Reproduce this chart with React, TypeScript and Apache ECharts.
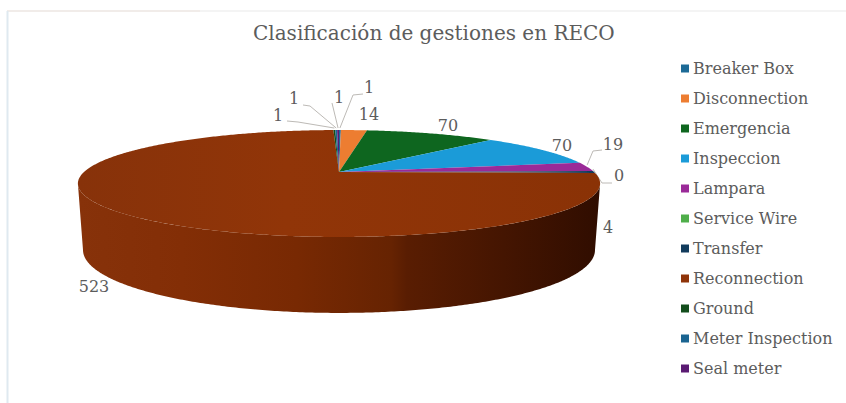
import React, { useEffect, useRef } from "react";
import * as echarts from "echarts";

const categories = ["Breaker Box", "Disconnection", "Emergencia", "Inspeccion", "Lampara", "Service Wire", "Transfer", "Reconnection", "Ground", "Meter Inspection", "Seal meter"];
const values = [1, 14, 70, 70, 19, 0, 4, 523, 1, 1, 1];
const colors = ["#1c6a96", "#ed7d31", "#0e661f", "#1b9bd8", "#9a2a98", "#4fae4a", "#123b5c", "#8f3409", "#134d1c", "#1a6491", "#5a1a72"];

// Label layout: [label x, label y, ...leader bend points]
const labelLayout: number[][] = [
  [369, 87, 363, 94, 353, 95],
  [369, 114],
  [448, 125],
  [562, 145],
  [613, 144, 602, 150, 593, 151],
  [619, 175, 612, 183, 602, 183],
  [608, 227],
  [94, 286],
  [278, 115, 287, 121, 298, 122],
  [294, 98, 303, 105, 310, 106],
  [339, 97, 332, 103],
];

const FONT = "DejaVu Serif";
const TEXT = "#5c5c5c";
const CX = 339;
const K = 0.215;
const total = values.reduce((a, b) => a + b, 0);
const starts: number[] = [];
values.reduce((acc, v, i) => { starts[i] = acc; return acc + v; }, 0);
const toAngle = (v: number) => (v / total) * Math.PI * 2;

const project = (t: number, cy: number, rx: number, ry: number) => {
  const u = Math.sin(t), v = Math.cos(t), w = 1 + K * v;
  return [CX + (rx * u) / w, cy - (ry * v) / w];
};
const topRim = (t: number) => project(t, 172, 255, 51);
const botRim = (t: number) => project(t, 236.5, 250, 60);
const sample = (a: number, b: number, f: (t: number) => number[]) => {
  const n = Math.max(2, Math.ceil(Math.abs(b - a) / 0.01));
  const pts: number[][] = [];
  for (let i = 0; i <= n; i++) pts.push(f(a + ((b - a) * i) / n));
  return pts;
};
const WALL_A = Math.PI - Math.asin(Math.sqrt(1 - K * K));
const WALL_B = Math.PI * 2 - WALL_A;

const wallFill = {
  type: "linear", x: 78, y: 0, x2: 600, y2: 0, global: true,
  colorStops: [
    { offset: 0, color: "#87320a" },
    { offset: 0.2, color: "#832e06" },
    { offset: 0.42, color: "#782903" },
    { offset: 0.6, color: "#662302" },
    { offset: 0.63, color: "#591d02" },
    { offset: 1, color: "#300d00" },
  ],
};
const faceFill = {
  type: "linear", x: 78, y: 0, x2: 600, y2: 0, global: true,
  colorStops: [
    { offset: 0, color: "#87320a" },
    { offset: 0.4, color: "#913508" },
    { offset: 1, color: "#8a3206" },
  ],
};

const makeRender = (i: number) => (_p: any, api: any) => {
  const value = api.value(0);
  const a = toAngle(starts[i]);
  const b = toAngle(starts[i] + value);
  const children: any[] = [];
  const la = Math.max(a, WALL_A), lb = Math.min(b, WALL_B);
  if (lb > la) {
    const upper = sample(la, lb, topRim);
    const lower = sample(lb, la, botRim);
    children.push({ type: "polygon", shape: { points: [...upper, ...lower] }, style: { fill: wallFill, stroke: null } });
  }
  if (b > a) {
    const fill = categories[i] === "Reconnection" ? faceFill : colors[i];
    children.push({
      type: "polygon",
      shape: { points: [[CX, 172], ...sample(a, b, topRim)] },
      style: { fill, stroke: null },
    });
  }
  const lay = labelLayout[i];
  if (lay.length > 2) {
    const pts: number[][] = [];
    for (let j = 2; j < lay.length; j += 2) pts.push([lay[j], lay[j + 1]]);
    const mid = topRim((a + b) / 2);
    pts.push([mid[0], mid[1] - 2]);
    children.push({ type: "polyline", shape: { points: pts }, style: { stroke: "#bdbab6", lineWidth: 1, fill: null } });
  }
  children.push({
    type: "text",
    style: { x: lay[0], y: lay[1], text: String(value), fill: TEXT, font: `16px "${FONT}"`, textAlign: "center", textVerticalAlign: "middle" },
  });
  return { type: "group", children };
};

export default function App() {
  const ref = useRef<HTMLDivElement>(null);
  useEffect(() => {
    const chart = echarts.init(ref.current!, undefined, { renderer: "svg" });
    chart.setOption({
      animation: false,
      backgroundColor: "#ffffff",
      title: {
        text: "Clasificación de gestiones en RECO",
        left: 253,
        top: 23,
        padding: 0,
        textStyle: { fontFamily: FONT, fontSize: 20, fontWeight: "normal", color: TEXT },
      },
      legend: {
        orient: "vertical",
        left: 681,
        top: 59,
        padding: 0,
        itemWidth: 8,
        itemHeight: 8,
        itemGap: 11,
        icon: "rect",
        data: categories,
        textStyle: { fontFamily: FONT, fontSize: 16, color: TEXT, padding: [0, 0, 0, -1], height: 19, lineHeight: 19 },
      },
      graphic: [
        { type: "line", shape: { x1: 7, y1: 11, x2: 200, y2: 11 }, style: { stroke: "#ece6e2", lineWidth: 1.5 } },
        { type: "line", shape: { x1: 200, y1: 11, x2: 846, y2: 11 }, style: { stroke: "#f1f1f1", lineWidth: 1.5 } },
        { type: "line", shape: { x1: 7.5, y1: 11, x2: 7.5, y2: 403 }, style: { stroke: "#dfe9f0", lineWidth: 2 } },
      ],
      series: categories.map((name, i) => ({
        type: "custom",
        name,
        coordinateSystem: "none",
        silent: true,
        itemStyle: { color: colors[i] },
        data: [[values[i]]],
        renderItem: makeRender(i),
      })),
    });
    return () => chart.dispose();
  }, []);
  return <div ref={ref} style={{ width: 846, height: 403, position: "absolute", left: 0, top: 0 }} />;
}
